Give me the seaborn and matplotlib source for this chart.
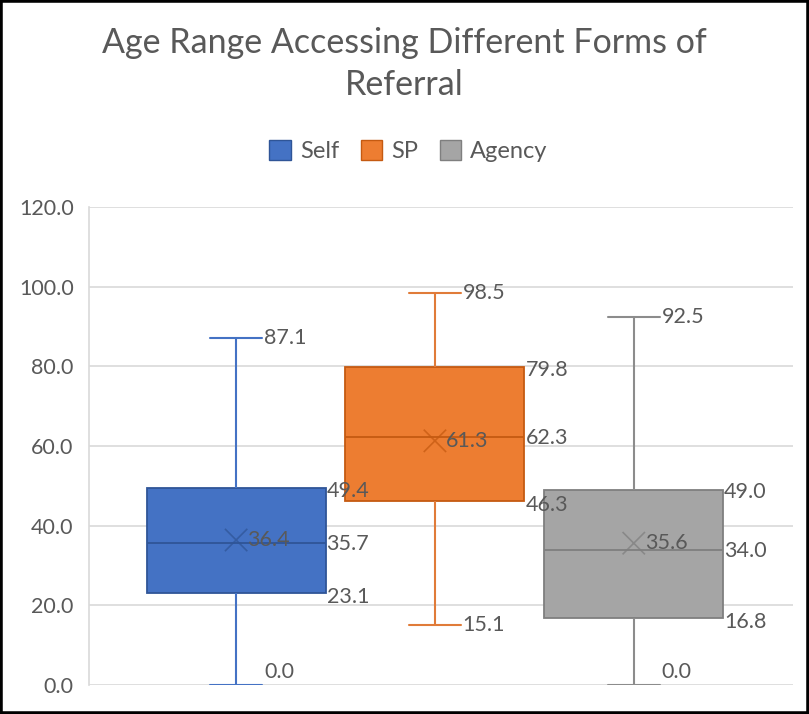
import pandas as pd
import matplotlib.pyplot as plt
import seaborn as sns
from matplotlib.patches import Patch, Rectangle

# ----------------------------
# Chart data
# ----------------------------
groups = ["Self", "SP", "Agency"]
mins = [0.0, 15.1, 0.0]
q1s = [23.1, 46.3, 16.8]
medians = [35.7, 62.3, 34.0]
q3s = [49.4, 79.8, 49.0]
maxs = [87.1, 98.5, 92.5]
means = [36.4, 61.3, 35.6]
yticks = [0, 20, 40, 60, 80, 100, 120]

fills = ["#4472C4", "#ED7D31", "#A5A5A5"]
edges = ["#2F5597", "#C55A11", "#7F7F7F"]
whisk = ["#4472C4", "#E07B39", "#8C8C8C"]

# five-number summary per group -> long table (quartiles land exactly on these)
rows = []
for g, a, b, c, d, e in zip(groups, mins, q1s, medians, q3s, maxs):
    for v in (a, b, c, d, e):
        rows.append({"group": g, "value": v})
df = pd.DataFrame(rows)

sns.set_style("white")
plt.rcParams["font.family"] = ["Lato", "DejaVu Sans"]
txt = "#595959"

fig = plt.figure(figsize=(8.09, 7.14), dpi=100)
ax = fig.add_axes([0.110, 0.0406, 0.870, 0.6695])

for i, g in enumerate(groups):
    sns.boxplot(
        data=df[df["group"] == g], x="group", y="value", order=groups,
        whis=(0, 100), width=0.9, color=fills[i], linecolor=edges[i],
        linewidth=1.3, showfliers=False, saturation=1, ax=ax,
        whiskerprops={"color": whisk[i], "linewidth": 1.5},
        capprops={"color": whisk[i], "linewidth": 1.5},
        medianprops={"color": edges[i], "linewidth": 1.3},
        capwidths=0.26,
    )

# mean markers
ax.scatter(range(len(groups)), means, marker="x", s=260, linewidths=1.2,
           c=edges, alpha=0.75, zorder=5)

# data labels
fs = 15.5
for i in range(len(groups)):
    ax.text(i + 0.14, maxs[i], f"{maxs[i]:.1f}", color=txt, fontsize=fs, va="center", ha="left")
    ax.text(i + 0.455, q3s[i] - 0.6, f"{q3s[i]:.1f}", color=txt, fontsize=fs, va="center", ha="left")
    ax.text(i + 0.455, medians[i] - 0.4, f"{medians[i]:.1f}", color=txt, fontsize=fs, va="center", ha="left")
    ax.text(i + 0.455, q1s[i] - 1.0, f"{q1s[i]:.1f}", color=txt, fontsize=fs, va="center", ha="left")
    ax.text(i + 0.055, means[i], f"{means[i]:.1f}", color=txt, fontsize=fs, va="center", ha="left")
    if mins[i] == 0:
        ax.text(i + 0.14, mins[i] + 0.8, f"{mins[i]:.1f}", color=txt, fontsize=fs, va="bottom", ha="left")
    else:
        ax.text(i + 0.14, mins[i], f"{mins[i]:.1f}", color=txt, fontsize=fs, va="center", ha="left")

ax.set_xlim(-0.74, 2.80)
ax.set_ylim(0, 120)
ax.set_yticks(yticks)
ax.set_yticklabels([f"{t:.1f}" for t in yticks], color=txt, fontsize=15.5)
ax.tick_params(axis="y", length=0, pad=11)
ax.set_xticks([])
ax.set_xlabel("")
ax.set_ylabel("")
ax.yaxis.grid(True, color="#D9D9D9", linewidth=1.2)
ax.set_axisbelow(True)
for s in ["top", "right", "bottom"]:
    ax.spines[s].set_visible(False)
ax.spines["left"].set_color("#D9D9D9")
ax.spines["left"].set_linewidth(1.2)

fig.text(0.5, 0.91, "Age Range Accessing Different Forms of\nReferral", ha="center", va="center",
         fontsize=24.5, color=txt, linespacing=1.4)

handles = [Patch(facecolor=f, edgecolor=e, label=g) for f, e, g in zip(fills, edges, groups)]
fig.legend(handles=handles, loc="center", bbox_to_anchor=(0.505, 0.788), ncol=3, frameon=False,
           fontsize=17, labelcolor=txt, handlelength=0.9, handleheight=0.9,
           handletextpad=0.4, columnspacing=0.9)

fig.patches.append(Rectangle((0, 0), 1, 1, transform=fig.transFigure, fill=False,
                             edgecolor="black", linewidth=4, zorder=10))

plt.savefig("out.png", dpi=100)
